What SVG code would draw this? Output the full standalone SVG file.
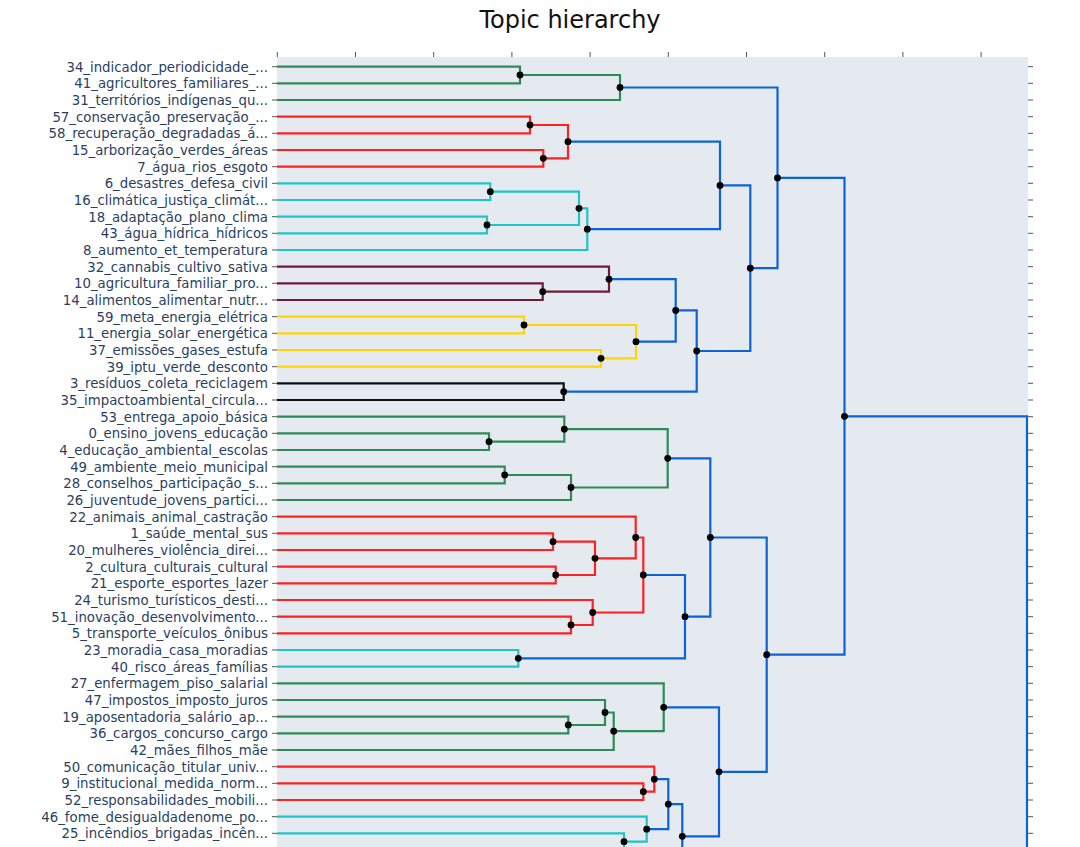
<svg xmlns="http://www.w3.org/2000/svg" width="1080" height="847" viewBox="0 0 1080 847">
<style>
.lbl{font-family:"DejaVu Sans","Liberation Sans",sans-serif;font-size:13.3px;fill:#2a3f5f;text-anchor:end}
.title{font-family:"DejaVu Sans","Liberation Sans",sans-serif;font-size:24px;fill:#111;text-anchor:middle}
.ln{fill:none;stroke-width:2.2;stroke-linejoin:miter}
.b{stroke:#0b63d6}.g{stroke:#2e8b57}.r{stroke:#ff2020}.c{stroke:#20c4c4}.m{stroke:#6e1a3a}.y{stroke:#ffd400}.k{stroke:#111}
.tk{stroke:#555;stroke-width:1}
.dot{fill:#000}
</style>
<rect x="0" y="0" width="1080" height="847" fill="#fff"/>
<text class="title" x="570" y="28">Topic hierarchy</text>
<rect x="277" y="57" width="751" height="800" fill="#e5eaf0"/>
<g id="axis-ticks" class="tk">
<path d="M277.3,52V57M355.5,52V57M433.7,52V57M511.9,52V57M590.1,52V57M668.3,52V57M746.5,52V57M824.7,52V57M902.9,52V57M981.1,52V57"/>
<path d="M272,66.7H277M272,83.3H277M272,100H277M272,116.7H277M272,133.3H277M272,150H277M272,166.7H277M272,183.3H277M272,200H277M272,216.7H277M272,233.3H277M272,250H277M272,266.7H277M272,283.3H277M272,300H277M272,316.7H277M272,333.3H277M272,350H277M272,366.7H277M272,383.3H277M272,400H277M272,416.7H277M272,433.3H277M272,450H277M272,466.7H277M272,483.3H277M272,500H277M272,516.7H277M272,533.3H277M272,550H277M272,566.7H277M272,583.3H277M272,600H277M272,616.7H277M272,633.3H277M272,650H277M272,666.7H277M272,683.3H277M272,700H277M272,716.7H277M272,733.3H277M272,750H277M272,766.7H277M272,783.3H277M272,800H277M272,816.7H277M272,833.3H277"/>
<path d="M1028,66.7H1033M1028,83.3H1033M1028,100H1033M1028,116.7H1033M1028,133.3H1033M1028,150H1033M1028,166.7H1033M1028,183.3H1033M1028,200H1033M1028,216.7H1033M1028,233.3H1033M1028,250H1033M1028,266.7H1033M1028,283.3H1033M1028,300H1033M1028,316.7H1033M1028,333.3H1033M1028,350H1033M1028,366.7H1033M1028,383.3H1033M1028,400H1033M1028,416.7H1033M1028,433.3H1033M1028,450H1033M1028,466.7H1033M1028,483.3H1033M1028,500H1033M1028,516.7H1033M1028,533.3H1033M1028,550H1033M1028,566.7H1033M1028,583.3H1033M1028,600H1033M1028,616.7H1033M1028,633.3H1033M1028,650H1033M1028,666.7H1033M1028,683.3H1033M1028,700H1033M1028,716.7H1033M1028,733.3H1033M1028,750H1033M1028,766.7H1033M1028,783.3H1033M1028,800H1033M1028,816.7H1033M1028,833.3H1033"/>
</g>
<g id="labels">
<text class="lbl" x="268" y="71.5">34_indicador_periodicidade_...</text>
<text class="lbl" x="268" y="88.1">41_agricultores_familiares_...</text>
<text class="lbl" x="268" y="104.8">31_territórios_indígenas_qu...</text>
<text class="lbl" x="268" y="121.5">57_conservação_preservação_...</text>
<text class="lbl" x="268" y="138.1">58_recuperação_degradadas_á...</text>
<text class="lbl" x="268" y="154.8">15_arborização_verdes_áreas</text>
<text class="lbl" x="268" y="171.5">7_água_rios_esgoto</text>
<text class="lbl" x="268" y="188.1">6_desastres_defesa_civil</text>
<text class="lbl" x="268" y="204.8">16_climática_justiça_climát...</text>
<text class="lbl" x="268" y="221.5">18_adaptação_plano_clima</text>
<text class="lbl" x="268" y="238.1">43_água_hídrica_hídricos</text>
<text class="lbl" x="268" y="254.8">8_aumento_et_temperatura</text>
<text class="lbl" x="268" y="271.5">32_cannabis_cultivo_sativa</text>
<text class="lbl" x="268" y="288.1">10_agricultura_familiar_pro...</text>
<text class="lbl" x="268" y="304.8">14_alimentos_alimentar_nutr...</text>
<text class="lbl" x="268" y="321.5">59_meta_energia_elétrica</text>
<text class="lbl" x="268" y="338.1">11_energia_solar_energética</text>
<text class="lbl" x="268" y="354.8">37_emissões_gases_estufa</text>
<text class="lbl" x="268" y="371.5">39_iptu_verde_desconto</text>
<text class="lbl" x="268" y="388.1">3_resíduos_coleta_reciclagem</text>
<text class="lbl" x="268" y="404.8">35_impactoambiental_circula...</text>
<text class="lbl" x="268" y="421.5">53_entrega_apoio_básica</text>
<text class="lbl" x="268" y="438.1">0_ensino_jovens_educação</text>
<text class="lbl" x="268" y="454.8">4_educação_ambiental_escolas</text>
<text class="lbl" x="268" y="471.5">49_ambiente_meio_municipal</text>
<text class="lbl" x="268" y="488.1">28_conselhos_participação_s...</text>
<text class="lbl" x="268" y="504.8">26_juventude_jovens_partici...</text>
<text class="lbl" x="268" y="521.5">22_animais_animal_castração</text>
<text class="lbl" x="268" y="538.1">1_saúde_mental_sus</text>
<text class="lbl" x="268" y="554.8">20_mulheres_violência_direi...</text>
<text class="lbl" x="268" y="571.5">2_cultura_culturais_cultural</text>
<text class="lbl" x="268" y="588.1">21_esporte_esportes_lazer</text>
<text class="lbl" x="268" y="604.8">24_turismo_turísticos_desti...</text>
<text class="lbl" x="268" y="621.5">51_inovação_desenvolvimento...</text>
<text class="lbl" x="268" y="638.1">5_transporte_veículos_ônibus</text>
<text class="lbl" x="268" y="654.8">23_moradia_casa_moradias</text>
<text class="lbl" x="268" y="671.5">40_risco_áreas_famílias</text>
<text class="lbl" x="268" y="688.1">27_enfermagem_piso_salarial</text>
<text class="lbl" x="268" y="704.8">47_impostos_imposto_juros</text>
<text class="lbl" x="268" y="721.5">19_aposentadoria_salário_ap...</text>
<text class="lbl" x="268" y="738.1">36_cargos_concurso_cargo</text>
<text class="lbl" x="268" y="754.8">42_mães_filhos_mãe</text>
<text class="lbl" x="268" y="771.5">50_comunicação_titular_univ...</text>
<text class="lbl" x="268" y="788.1">9_institucional_medida_norm...</text>
<text class="lbl" x="268" y="804.8">52_responsabilidades_mobili...</text>
<text class="lbl" x="268" y="821.5">46_fome_desigualdadenome_po...</text>
<text class="lbl" x="268" y="838.1">25_incêndios_brigadas_incên...</text>
</g>
<g id="connectors">
<path class="ln g" d="M277,66.7H520V83.3H277"/>
<path class="ln g" d="M520,75H620V100H277"/>
<path class="ln r" d="M277,116.7H530V133.3H277"/>
<path class="ln r" d="M277,150H543.3V166.7H277"/>
<path class="ln r" d="M530,125H568V158.3H543.3"/>
<path class="ln c" d="M277,183.3H490.3V200H277"/>
<path class="ln c" d="M277,216.7H487V233.3H277"/>
<path class="ln c" d="M490.3,191.7H579V225H487"/>
<path class="ln c" d="M579,208.3H587.3V250H277"/>
<path class="ln b" d="M568,141.7H720V229.2H587.3"/>
<path class="ln m" d="M277,283.3H542.7V300H277"/>
<path class="ln m" d="M277,266.7H609V291.7H542.7"/>
<path class="ln y" d="M277,316.7H524V333.3H277"/>
<path class="ln y" d="M277,350H601V366.7H277"/>
<path class="ln y" d="M524,325H636V358.3H601"/>
<path class="ln b" d="M609,279.2H675.7V341.7H636"/>
<path class="ln k" d="M277,383.3H563.7V400H277"/>
<path class="ln b" d="M675.7,310.4H696.7V391.7H563.7"/>
<path class="ln b" d="M720,185.4H750.3V351H696.7"/>
<path class="ln b" d="M620,87.5H777.5V268.2H750.3"/>
<path class="ln g" d="M277,433.3H489V450H277"/>
<path class="ln g" d="M277,416.7H564.3V441.7H489"/>
<path class="ln g" d="M277,466.7H504.7V483.3H277"/>
<path class="ln g" d="M504.7,475H571V500H277"/>
<path class="ln g" d="M564.3,429.2H667.7V487.5H571"/>
<path class="ln r" d="M277,533.3H553V550H277"/>
<path class="ln r" d="M277,566.7H555.7V583.3H277"/>
<path class="ln r" d="M553,541.7H595V575H555.7"/>
<path class="ln r" d="M277,516.7H635.7V558.3H595"/>
<path class="ln r" d="M277,616.7H571V633.3H277"/>
<path class="ln r" d="M277,600H592.7V625H571"/>
<path class="ln r" d="M635.7,537.5H643.3V612.5H592.7"/>
<path class="ln c" d="M277,650H518.3V666.7H277"/>
<path class="ln b" d="M643.3,575H685V658.3H518.3"/>
<path class="ln b" d="M667.7,458.3H710.3V616.7H685"/>
<path class="ln g" d="M277,716.7H568.3V733.3H277"/>
<path class="ln g" d="M277,700H605V725H568.3"/>
<path class="ln g" d="M605,712.5H613.7V750H277"/>
<path class="ln g" d="M277,683.3H663.7V731.2H613.7"/>
<path class="ln r" d="M277,783.3H643.3V800H277"/>
<path class="ln r" d="M277,766.7H654.3V791.7H643.3"/>
<path class="ln c" d="M277,833.3H624V850H277"/>
<path class="ln c" d="M277,816.7H646.7V841.7H624"/>
<path class="ln b" d="M654.3,779.2H668.3V829.2H646.7"/>
<path class="ln b" d="M668.3,804.2H682.3V880"/>
<path class="ln b" d="M663.7,707.3H719V836.3H682.3"/>
<path class="ln b" d="M710.3,537.5H766.7V771.8H719"/>
<path class="ln b" d="M777.5,177.9H844.5V654.7H766.7"/>
<path class="ln b" d="M844.5,416.3H1027V900"/>
</g>
<g id="nodes" class="dot">
<circle cx="520" cy="75" r="3.4"/>
<circle cx="620" cy="87.5" r="3.4"/>
<circle cx="530" cy="125" r="3.4"/>
<circle cx="543.3" cy="158.3" r="3.4"/>
<circle cx="568" cy="141.7" r="3.4"/>
<circle cx="490.3" cy="191.7" r="3.4"/>
<circle cx="487" cy="225" r="3.4"/>
<circle cx="579" cy="208.3" r="3.4"/>
<circle cx="587.3" cy="229.2" r="3.4"/>
<circle cx="720" cy="185.4" r="3.4"/>
<circle cx="542.7" cy="291.7" r="3.4"/>
<circle cx="609" cy="279.2" r="3.4"/>
<circle cx="524" cy="325" r="3.4"/>
<circle cx="601" cy="358.3" r="3.4"/>
<circle cx="636" cy="341.7" r="3.4"/>
<circle cx="675.7" cy="310.4" r="3.4"/>
<circle cx="563.7" cy="391.7" r="3.4"/>
<circle cx="696.7" cy="351" r="3.4"/>
<circle cx="750.3" cy="268.2" r="3.4"/>
<circle cx="777.5" cy="177.9" r="3.4"/>
<circle cx="489" cy="441.7" r="3.4"/>
<circle cx="564.3" cy="429.2" r="3.4"/>
<circle cx="504.7" cy="475" r="3.4"/>
<circle cx="571" cy="487.5" r="3.4"/>
<circle cx="667.7" cy="458.3" r="3.4"/>
<circle cx="553" cy="541.7" r="3.4"/>
<circle cx="555.7" cy="575" r="3.4"/>
<circle cx="595" cy="558.3" r="3.4"/>
<circle cx="635.7" cy="537.5" r="3.4"/>
<circle cx="571" cy="625" r="3.4"/>
<circle cx="592.7" cy="612.5" r="3.4"/>
<circle cx="643.3" cy="575" r="3.4"/>
<circle cx="518.3" cy="658.3" r="3.4"/>
<circle cx="685" cy="616.7" r="3.4"/>
<circle cx="710.3" cy="537.5" r="3.4"/>
<circle cx="568.3" cy="725" r="3.4"/>
<circle cx="605" cy="712.5" r="3.4"/>
<circle cx="613.7" cy="731.2" r="3.4"/>
<circle cx="663.7" cy="707.3" r="3.4"/>
<circle cx="643.3" cy="791.7" r="3.4"/>
<circle cx="654.3" cy="779.2" r="3.4"/>
<circle cx="624" cy="841.7" r="3.4"/>
<circle cx="646.7" cy="829.2" r="3.4"/>
<circle cx="668.3" cy="804.2" r="3.4"/>
<circle cx="682.3" cy="836.3" r="3.4"/>
<circle cx="719" cy="771.8" r="3.4"/>
<circle cx="766.7" cy="654.7" r="3.4"/>
<circle cx="844.5" cy="416.3" r="3.4"/>
</g>
</svg>
